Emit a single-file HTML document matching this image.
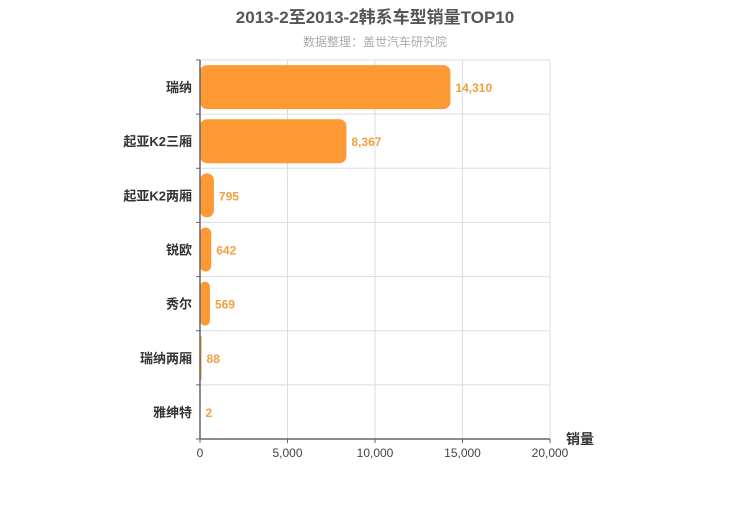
<!DOCTYPE html>
<html><head><meta charset="utf-8"><style>
body{margin:0;background:#fff;font-family:"Liberation Sans","Noto Sans CJK SC",sans-serif}
svg text{font-family:"Liberation Sans","Noto Sans CJK SC",sans-serif}
</style></head><body>
<svg id="c" width="750" height="500">
<text x="375" y="23" text-anchor="middle" font-size="17" font-weight="bold" fill="#555">2013-2至2013-2韩系车型销量TOP10</text>
<text x="375" y="46" text-anchor="middle" font-size="12" fill="#aaa">数据整理：盖世汽车研究院</text>
<g id="grid"></g><g id="bars"></g><g id="axes"></g>
<text x="580" y="444" text-anchor="middle" font-size="14" font-weight="bold" fill="#333">销量</text>
</svg>
<script>
const categories=["瑞纳","起亚K2三厢","起亚K2两厢","锐欧","秀尔","瑞纳两厢","雅绅特"];
const values=[14310,8367,795,642,569,88,2];
const xTicks=[0,5000,10000,15000,20000];
const NS="http://www.w3.org/2000/svg";
const L=200,R=550,T=60,B=439,max=20000;
const rowH=(B-T)/categories.length;
const x=v=>L+v/max*(R-L);
function mk(tag,attrs,parent,txt){const e=document.createElementNS(NS,tag);for(const k in attrs)e.setAttribute(k,attrs[k]);if(txt!==undefined)e.textContent=txt;document.getElementById(parent).appendChild(e);return e;}
xTicks.forEach(t=>{
 const g=mk('line',{x1:x(t),x2:x(t),y1:T,y2:B,stroke:'#ddd'},'grid');
 
 
 const tl=mk('text',{x:x(t),y:B+18,'text-anchor':'middle','font-size':12,fill:'#444'},'axes',t.toLocaleString('en-US'));
 
 
 const tk=mk('line',{x1:x(t),x2:x(t),y1:B,y2:B+4,stroke:'#666'},'axes');
 
 
});
for(let i=0;i<=categories.length;i++){
 const y=T+i*rowH;
 const g=mk('line',{x1:L,x2:R,y1:y,y2:y,stroke:'#ddd'},'grid');
 
 
 const tk=mk('line',{x1:L-4,x2:L,y1:y,y2:y,stroke:'#666'},'axes');
 
 
}
categories.forEach((c,i)=>{
 const yc=T+(i+0.5)*rowH, h=44;
 const w=Math.max(x(values[i])-L,0.5);
 const b=mk('rect',{x:L,y:yc-h/2,width:w,height:h,rx:Math.min(7,w/2),fill:'#FF9933'},'bars');
 
 
 const v=mk('text',{x:L+w+5,y:yc+5,'font-size':12,'font-weight':'bold',fill:'#f0a040'},'bars',values[i].toLocaleString('en-US'));
 
 
 const cl=mk('text',{x:L-8,y:yc+5,'text-anchor':'end','font-size':13,'font-weight':'bold',fill:'#333'},'axes',c);
 
 
});
const ax=mk('line',{x1:L,x2:L,y1:T,y2:B,stroke:'#666','stroke-width':1.5},'axes');


const ax2=mk('line',{x1:L,x2:R,y1:B,y2:B,stroke:'#666','stroke-width':1.5},'axes');


</script>
</body></html>
